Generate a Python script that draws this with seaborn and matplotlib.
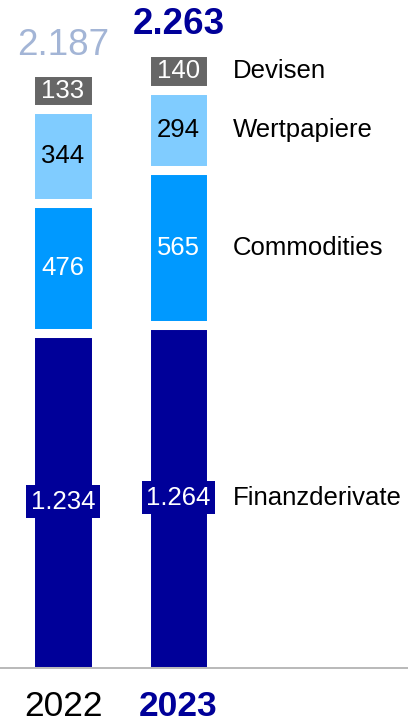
import matplotlib
matplotlib.use("Agg")
import matplotlib.pyplot as plt
import seaborn as sns
import numpy as np
import pandas as pd

# ---- data ----
years = ["2022", "2023"]
categories = ["Finanzderivate", "Commodities", "Wertpapiere", "Devisen"]
finanzderivate = [1234, 1264]
commodities = [476, 565]
wertpapiere = [344, 294]
devisen = [133, 140]
totals = [2187, 2263]

series = {
    "Finanzderivate": finanzderivate,
    "Commodities": commodities,
    "Wertpapiere": wertpapiere,
    "Devisen": devisen,
}
colors = {
    "Finanzderivate": "#000099",
    "Commodities": "#0099FF",
    "Wertpapiere": "#80CCFF",
    "Devisen": "#666666",
}
text_colors = {
    "Finanzderivate": "white",
    "Commodities": "white",
    "Wertpapiere": "black",
    "Devisen": "white",
}


def fmt(v):
    return f"{int(v):,}".replace(",", ".")


sns.set_theme(style="white")
plt.rcParams["font.family"] = ["Liberation Sans", "DejaVu Sans"]

fig = plt.figure(figsize=(4.08, 7.22), dpi=100)
ax = fig.add_axes([0, 0, 1, 1])

bottom = np.zeros(len(years))
for cat in categories:
    vals = np.array(series[cat], dtype=float)
    sub = pd.DataFrame({"year": years, "value": vals})
    sns.barplot(data=sub, x="year", y="value", order=years, bottom=bottom,
                color=colors[cat], saturation=1, width=0.571, errorbar=None,
                edgecolor="white", linewidth=6.5, ax=ax, zorder=2)
    mids = bottom + vals / 2
    for i, v in enumerate(vals):
        kw = {}
        if cat == "Finanzderivate":
            kw["bbox"] = dict(boxstyle="square,pad=0.18", fc=colors[cat], ec="none")
        ax.text(i, mids[i], fmt(v), ha="center", va="center", fontsize=18.5,
                color=text_colors[cat], zorder=4, **kw)
    # category label next to last bar
    ax.text(1.472, mids[-1], cat, ha="left", va="center", fontsize=18.5,
            color="black", zorder=4)
    bottom = bottom + vals

# totals
total_styles = [dict(color="#A3B5D6", fontweight="normal"),
                dict(color="#000099", fontweight="bold")]
for i, t in enumerate(totals):
    ax.annotate(fmt(t), xy=(i, bottom[i]), xytext=(0, 19.5),
                textcoords="offset points", ha="center", va="center",
                fontsize=26.5, **total_styles[i])

# baseline
ax.axhline(9, color="#A6A6A6", lw=1.1, zorder=3)

# year labels
year_styles = [dict(color="black", fontweight="normal", fontsize=25.5),
               dict(color="#000099", fontweight="bold", fontsize=25.5)]
for i, y in enumerate(years):
    ax.text(i, -133, y, ha="center", va="center", **year_styles[i])

ax.set_xlim(-0.5455, 2.987)
ax.set_ylim(-188.3, 2451.6)
ax.axis("off")

fig.savefig("out.png", dpi=100)
